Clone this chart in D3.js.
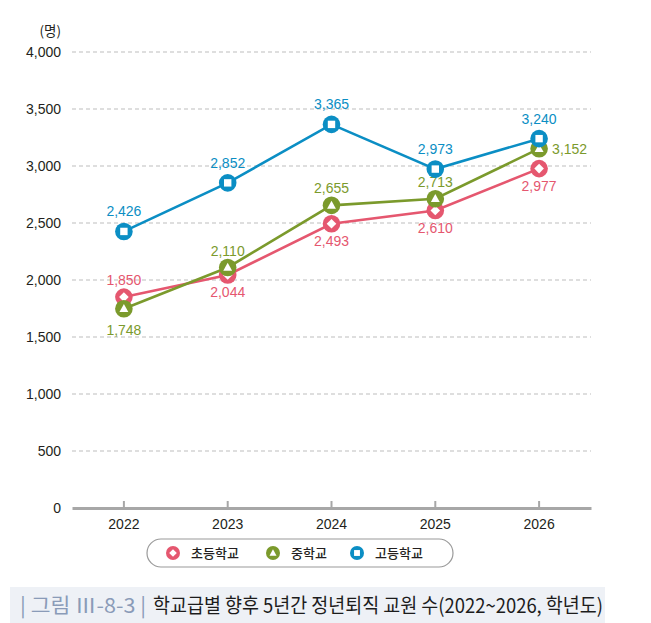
<!DOCTYPE html>
<html><head><meta charset="utf-8">
<script src="https://cdn.jsdelivr.net/npm/d3@7"></script>
<style>
body{margin:0;background:#fff;}
svg{display:block;font-family:"Noto Sans CJK KR","Noto Sans",sans-serif;}
</style></head>
<body><svg id="c" width="651" height="623"></svg>
<script>
const years = ["2022","2023","2024","2025","2026"];
const elementary = [1850, 2044, 2493, 2610, 2977];
const middle = [1748, 2110, 2655, 2713, 3152];
const high = [2426, 2852, 3365, 2973, 3240];
const yTicks = [0,500,1000,1500,2000,2500,3000,3500,4000];
const seriesNames = ["초등학교","중학교","고등학교"];
// label placement: "t" top, "b" bottom, "r" right
const elemPos = ["t","b","b","b","b"];
const midPos = ["b","t","t","t","r"];
const highPos = ["t","t","t","t","t"];

const colors = ["#e5576f","#7b9a2c","#0b8ec4"];
const series = [
  {name:seriesNames[0], values:elementary, pos:elemPos, color:colors[0], shape:"diamond", top:-17, bot:17},
  {name:seriesNames[1], values:middle, pos:midPos, color:colors[1], shape:"triangle", top:-17, bot:21},
  {name:seriesNames[2], values:high, pos:highPos, color:colors[2], shape:"square", top:-20, bot:20}
];

const svg = d3.select("#c");
const x = d3.scaleBand().domain(years).range([72, 591]);
const y = d3.scaleLinear().domain([0,4000]).range([508, 52]);
const fmt = d3.format(",");
const latin = "Liberation Sans, Arial, sans-serif";

// grid
svg.append("g").selectAll("line").data(yTicks.filter(d=>d>0)).join("line")
  .attr("x1",72).attr("x2",591).attr("y1",d=>y(d)).attr("y2",d=>y(d))
  .attr("stroke","#bdbdbd").attr("stroke-width",1).attr("stroke-dasharray","4,3");

// y labels
svg.append("g").selectAll("text").data(yTicks).join("text")
  .attr("x",61).attr("y",d=>y(d)).attr("dy","0.36em").attr("text-anchor","end")
  .attr("font-size",14).attr("fill","#231f20").attr("font-family",latin)
  .text(d=>fmt(d));
svg.append("text").attr("x",61).attr("y",36).attr("text-anchor","end")
  .attr("font-size",13.5).attr("fill","#231f20").text("(명)");

// x axis
const xAxis = d3.axisBottom(x).tickSize(0).tickPadding(10);
const gx = svg.append("g").attr("transform",`translate(0,${y(0)})`).call(xAxis);
gx.select(".domain").attr("stroke","#a7a7a7").attr("stroke-width",3);
gx.selectAll(".tick line").remove();
gx.selectAll(".tick").append("line").attr("y1",-1).attr("y2",-7).attr("stroke","#a7a7a7").attr("stroke-width",2);
gx.selectAll(".tick text").attr("font-size",14).attr("fill","#231f20").attr("font-family",latin).attr("dy","0.8em");

const cx = d => x(d) + x.bandwidth()/2;

function drawMarker(g, shape, color, r){
  g.append("circle").attr("r",r).attr("fill",color);
  const s = r*0.42;
  if(shape==="diamond"){
    g.append("path").attr("d",`M0,${-s*1.3}L${s*1.3},0L0,${s*1.3}L${-s*1.3},0Z`).attr("fill","#fff");
  } else if(shape==="triangle"){
    g.append("path").attr("d",`M0,${-s*1.25}L${s*1.2},${s*0.9}L${-s*1.2},${s*0.9}Z`).attr("fill","#fff");
  } else {
    g.append("rect").attr("x",-s).attr("y",-s).attr("width",2*s).attr("height",2*s).attr("fill","#fff");
  }
}

const line = d3.line().x(d=>cx(d.year)).y(d=>y(d.v));
series.forEach(s=>{
  const pts = years.map((yr,i)=>({year:yr, v:s.values[i], pos:s.pos[i]}));
  svg.append("path").datum(pts).attr("d",line).attr("fill","none")
    .attr("stroke",s.color).attr("stroke-width",2.6);
});
series.forEach(s=>{
  const pts = years.map((yr,i)=>({year:yr, v:s.values[i], pos:s.pos[i]}));
  pts.forEach(p=>{
    const g = svg.append("g").attr("transform",`translate(${cx(p.year)},${y(p.v)})`);
    drawMarker(g, s.shape, s.color, 8.8);
  });
  svg.append("g").selectAll("text").data(pts).join("text")
    .attr("x",p=> p.pos==="r" ? cx(p.year)+13 : cx(p.year))
    .attr("y",p=> p.pos==="t" ? y(p.v)+s.top : p.pos==="b" ? y(p.v)+s.bot : y(p.v))
    .attr("dy","0.36em")
    .attr("text-anchor",p=>p.pos==="r"?"start":"middle")
    .attr("font-size",14).attr("fill",s.color).attr("font-family",latin)
    .text(p=>fmt(p.v));
});

// legend
svg.append("rect").attr("x",147).attr("y",539).attr("width",306).attr("height",28).attr("rx",14)
  .attr("fill","#fff").attr("stroke","#9a9a9a").attr("stroke-width",1.2);
const legX = [173, 273, 357];
series.forEach((s,i)=>{
  const g = svg.append("g").attr("transform",`translate(${legX[i]},553)`);
  drawMarker(g, s.shape, s.color, 7);
  svg.append("text").attr("x",legX[i]+18).attr("y",553).attr("dy","0.36em")
    .attr("font-size",13).attr("font-weight",500).attr("fill","#231f20").text(s.name);
});

// caption
svg.append("rect").attr("x",10).attr("y",587).attr("width",595).attr("height",36).attr("fill","#eef1f6");
svg.append("text").attr("x",20).attr("y",613).attr("font-size",20)
  .attr("textLength",126).attr("lengthAdjust","spacingAndGlyphs")
  .attr("fill","#8a9bb8").text("| 그림 Ⅲ-8-3 |");
svg.append("text").attr("x",153).attr("y",613).attr("font-size",20)
  .attr("textLength",450).attr("lengthAdjust","spacingAndGlyphs")
  .attr("fill","#1c1c1c").text("학교급별 향후 5년간 정년퇴직 교원 수(2022~2026, 학년도)");
</script></body></html>
